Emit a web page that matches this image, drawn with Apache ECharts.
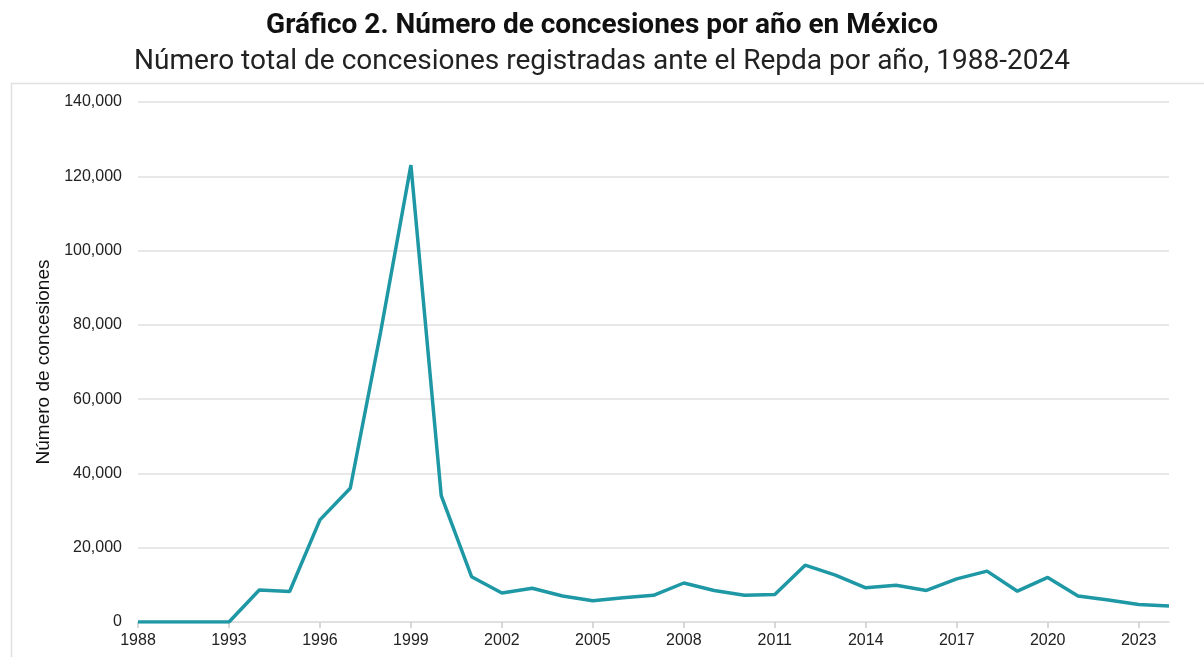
<!DOCTYPE html>
<html><head><meta charset="utf-8">
<script src="https://cdn.jsdelivr.net/npm/echarts@6/dist/echarts.min.js"></script>
<style>html,body{margin:0;padding:0;background:#fff}#c{width:1204px;height:657px}</style>
</head><body><div id="c"></div>
<script>
const years = ['1988','1990','1992','1993','1994','1995','1996','1997','1998','1999','2000','2001','2002','2003','2004','2005','2006','2007','2008','2009','2010','2011','2012','2013','2014','2015','2016','2017','2018','2019','2020','2021','2022','2023','2024'];
const concesiones = [0,0,0,0,8600,8200,27500,36000,78000,123000,34000,12200,7800,9100,7000,5700,6500,7200,10500,8500,7200,7400,15300,12600,9200,9900,8500,11600,13700,8300,12000,7000,5900,4700,4300];
const yTicks = {min:0,max:140000,interval:20000};
const titleText = 'Gráfico 2. Número de concesiones por año en México';
const subtitleText = 'Número total de concesiones registradas ante el Repda por año, 1988-2024';
const yName = 'Número de concesiones';

const chart = echarts.init(document.getElementById('c'));
chart.setOption({
  animation:false,
  title:{text:titleText,subtext:subtitleText,left:'center',top:7,itemGap:8,
    textStyle:{fontFamily:'Roboto',fontWeight:'bold',fontSize:28,color:'#111'},
    subtextStyle:{fontFamily:'Roboto',fontSize:28,color:'#222'}},
  graphic:[{type:'rect',left:9,top:81,shape:{width:1220,height:620},style:{fill:'none',stroke:'#e0e0e0',lineWidth:1.5},silent:true}],
  grid:{left:138,right:35,top:102,bottom:35},
  xAxis:{type:'category',data:years,boundaryGap:false,
    axisLine:{show:true,lineStyle:{color:'#ddd',width:1.5}},
    axisTick:{show:true,interval:2,length:6,lineStyle:{color:'#ccc',width:1.5}},
    axisLabel:{interval:2,margin:11,fontFamily:'Liberation Sans',fontSize:16,color:'#222'}},
  yAxis:{type:'value',min:yTicks.min,max:yTicks.max,interval:yTicks.interval,
    name:yName,nameLocation:'middle',nameGap:84,nameRotate:90,
    nameTextStyle:{fontFamily:'Liberation Sans',fontSize:19,color:'#111'},
    axisLine:{show:false},axisTick:{show:false},
    axisLabel:{margin:16,fontFamily:'Liberation Sans',fontSize:16,color:'#222',
      formatter:v=>v.toLocaleString('en-US')},
    splitLine:{lineStyle:{color:'#e0e0e0',width:1.5}}},
  series:[{type:'line',data:concesiones,showSymbol:false,
    lineStyle:{color:'#1f98a6',width:3.5},itemStyle:{color:'#1f98a6'}}]
});
</script></body></html>
